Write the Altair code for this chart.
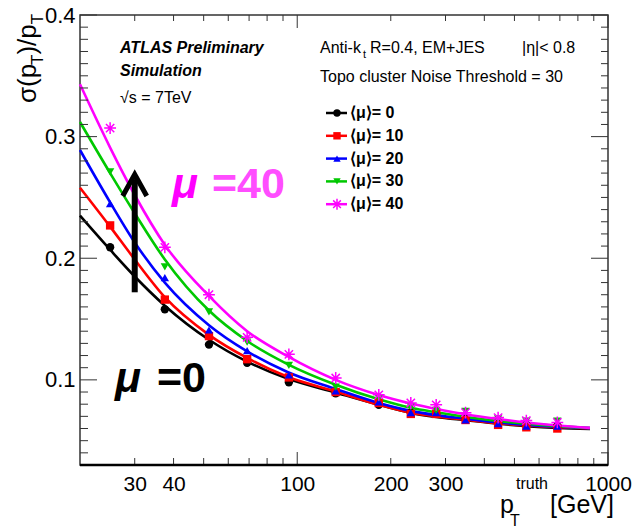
import altair as alt
import pandas as pd

FONT = "Liberation Sans"
W, H = 528, 450
TICK = "#333333"

# ---------------- data ----------------
mu_values = ["0", "10", "20", "30", "40"]
mu_colors = ["#000000", "#ff0000", "#0000ff", "#00c800", "#ff00ff"]
legend_labels = ["⟨μ⟩= 0", "⟨μ⟩= 10", "⟨μ⟩= 20", "⟨μ⟩= 30", "⟨μ⟩= 40"]

# fitted resolution curves
curve_pt = [20, 25, 30, 37.5, 52, 69, 93, 133, 183, 232, 280, 350, 443, 546, 690, 875]
curve_mu0 = [0.235, 0.207, 0.185, 0.161, 0.133, 0.115, 0.101, 0.0895, 0.0795, 0.0728, 0.0695, 0.0668, 0.0640, 0.0620, 0.0605, 0.0597]
curve_mu10 = [0.258, 0.226, 0.199, 0.168, 0.137, 0.118, 0.1025, 0.0905, 0.0795, 0.0730, 0.0700, 0.0672, 0.0643, 0.0625, 0.0610, 0.0600]
curve_mu20 = [0.289, 0.246, 0.213, 0.180, 0.145, 0.1235, 0.1065, 0.0925, 0.0810, 0.0745, 0.0710, 0.0680, 0.0650, 0.0630, 0.0615, 0.0603]
curve_mu30 = [0.312, 0.270, 0.237, 0.199, 0.157, 0.132, 0.113, 0.0960, 0.0840, 0.0770, 0.0733, 0.0695, 0.0663, 0.0640, 0.0620, 0.0604]
curve_mu40 = [0.343, 0.291, 0.252, 0.211, 0.169, 0.140, 0.1195, 0.1000, 0.0875, 0.0805, 0.0760, 0.0715, 0.0678, 0.0650, 0.0625, 0.0605]

# measured points
marker_pt = [25, 37.5, 52, 69, 94, 133, 183, 232, 280, 348, 443, 546, 687]
marker_mu0 = [0.209, 0.158, 0.129, 0.114, 0.098, 0.089, 0.0795, 0.073, 0.072, 0.068, 0.065, 0.063, 0.062]
marker_mu10 = [0.227, 0.166, 0.136, 0.117, 0.102, 0.090, 0.081, 0.072, 0.072, 0.067, 0.063, 0.061, 0.060]
marker_mu20 = [0.245, 0.184, 0.141, 0.124, 0.104, 0.091, 0.082, 0.073, 0.073, 0.067, 0.064, 0.062, 0.062]
marker_mu30 = [0.271, 0.193, 0.156, 0.131, 0.112, 0.094, 0.085, 0.078, 0.075, 0.074, 0.068, 0.066, 0.066]
marker_mu40 = [0.307, 0.209, 0.170, 0.135, 0.121, 0.1015, 0.0877, 0.081, 0.0795, 0.073, 0.069, 0.0665, 0.065]

x_label_values = [30, 40, 100, 200, 300, 1000]
y_label_values = [0.1, 0.2, 0.3, 0.4]
x_major_ticks = [100, 1000]
x_minor_ticks = [30, 40, 50, 60, 70, 80, 90, 200, 300, 400, 500, 600, 700, 800, 900]
y_major_ticks = [0.1, 0.2, 0.3, 0.4]
y_minor_ticks = [0.03, 0.04, 0.05, 0.06, 0.07, 0.08, 0.09,
                 0.11, 0.12, 0.13, 0.14, 0.15, 0.16, 0.17, 0.18, 0.19,
                 0.21, 0.22, 0.23, 0.24, 0.25, 0.26, 0.27, 0.28, 0.29,
                 0.31, 0.32, 0.33, 0.34, 0.35, 0.36, 0.37, 0.38, 0.39]

arrow_pt = [30]
arrow_start = [0.172]
arrow_end = [0.265]
arrow_tip = [0.269]

y_title_parts = ["σ(p", "T", ")/p", "T"]
x_title_parts = ["p", "T", "truth", "[GeV]"]
info_texts = ["ATLAS Preliminary", "Simulation", "√s = 7TeV",
              "Anti-k", "t", "R=0.4, EM+JES", "|η|< 0.8",
              "Topo cluster Noise Threshold = 30"]
big_labels = ["μ", "=40", "μ", "=0"]

# ---------------- tables ----------------
curve_sets = [curve_mu0, curve_mu10, curve_mu20, curve_mu30, curve_mu40]
marker_sets = [marker_mu0, marker_mu10, marker_mu20, marker_mu30, marker_mu40]
df_curves = pd.DataFrame([{"pt": p, "s": v, "mu": m}
                          for m, arr in zip(mu_values, curve_sets)
                          for p, v in zip(curve_pt, arr)])
df_markers = pd.DataFrame([{"pt": p, "s": v, "mu": m}
                           for m, arr in zip(mu_values, marker_sets)
                           for p, v in zip(marker_pt, arr)])

xs = alt.Scale(type="log", domain=[20, 1000], nice=False)
ys = alt.Scale(domain=[0.03, 0.4], nice=False, zero=False)
cs = alt.Scale(domain=mu_values, range=mu_colors)

STAR = "M-1,0L1,0M0,-1L0,1M-0.7,-0.7L0.7,0.7M-0.7,0.7L0.7,-0.7"
CHEVRON = "M-1,1.8L0,0L1,1.8"

x_axis = alt.Axis(values=x_label_values, format="d", labelFontSize=21, labelFont=FONT,
                  labelColor="black", ticks=False, domain=False, grid=False, labelPadding=8,
                  title=None, labelFlush=False, labelOverlap=False)
y_axis = alt.Axis(values=y_label_values, format=".1f", labelFontSize=22, labelFont=FONT,
                  labelColor="black", ticks=False, domain=False, grid=False, labelPadding=5,
                  title=None, labelFlush=False, labelOverlap=False)


def X(field):
    return alt.X(field, scale=xs, axis=x_axis)


def Y(field):
    return alt.Y(field, scale=ys, axis=y_axis)


layers = []

curves = alt.Chart(df_curves).mark_line(strokeWidth=2.6, interpolate="monotone").encode(
    x=X("pt:Q"), y=Y("s:Q"),
    color=alt.Color("mu:N", scale=cs, legend=None),
)
layers.append(curves)

filled = alt.Chart(df_markers).transform_filter(
    alt.FieldOneOfPredicate(field="mu", oneOf=mu_values[:4])
).mark_point(filled=True, size=70, opacity=1).encode(
    x=X("pt:Q"), y=Y("s:Q"),
    color=alt.Color("mu:N", scale=cs, legend=None),
    shape=alt.Shape("mu:N", scale=alt.Scale(domain=mu_values[:4],
                                            range=["circle", "square", "triangle-up", "triangle-down"]),
                    legend=None),
)
layers.append(filled)

stars = alt.Chart(df_markers).transform_filter(
    alt.datum.mu == mu_values[4]
).mark_point(shape=STAR, filled=False, size=140, strokeWidth=1.5, color=mu_colors[4], opacity=1).encode(
    x=X("pt:Q"), y=Y("s:Q"),
)
layers.append(stars)

# arrow
df_arrow = pd.DataFrame({"pt": arrow_pt, "s": arrow_start, "s2": arrow_end, "tip": arrow_tip})
layers.append(alt.Chart(df_arrow).mark_rule(strokeWidth=6, color="black").encode(
    x=X("pt:Q"), y=Y("s:Q"), y2="s2:Q"))
layers.append(alt.Chart(df_arrow).mark_point(shape=CHEVRON, filled=False, size=576, strokeWidth=5,
                                              color="black", opacity=1, strokeJoin="miter").encode(
    x=X("pt:Q"), y=Y("tip:Q")))


# frame ticks (inside, ROOT style)
def yticks(vals, x0, x1):
    return alt.Chart(pd.DataFrame({"s": vals})).mark_rule(color=TICK, strokeWidth=1).encode(
        y=Y("s:Q"), x=alt.value(x0), x2=alt.value(x1))


def xticks(vals, y0, y1):
    return alt.Chart(pd.DataFrame({"pt": vals})).mark_rule(color=TICK, strokeWidth=1).encode(
        x=X("pt:Q"), y=alt.value(y0), y2=alt.value(y1))


layers += [
    yticks(y_major_ticks, 0, 17), yticks(y_minor_ticks, 0, 8),
    yticks(y_major_ticks, W - 17, W), yticks(y_minor_ticks, W - 7, W),
    xticks(x_major_ticks, H - 13, H), xticks(x_minor_ticks, H - 7, H),
    xticks(x_major_ticks, 0, 13), xticks(x_minor_ticks, 0, 6),
]

# thicker bottom frame line
layers.append(alt.Chart(pd.DataFrame({"k": [0]})).mark_rule(color="black", strokeWidth=2.5).encode(
    x=alt.value(0), x2=alt.value(W), y=alt.value(H)))


def txt(s, x, y, size, weight="normal", style="normal", color="black", angle=0,
        align="left", baseline="alphabetic"):
    return alt.Chart(pd.DataFrame({"t": [s]})).mark_text(
        align=align, baseline=baseline, font=FONT, fontSize=size, fontWeight=weight,
        fontStyle=style, color=color, angle=angle).encode(
        x=alt.value(x), y=alt.value(y), text="t:N")


# y-axis title (rotated, reads bottom to top)
layers += [
    txt(y_title_parts[0], -44, 88, 26, angle=270),
    txt(y_title_parts[1], -37, 50, 17, angle=270),
    txt(y_title_parts[2], -44, 39.6, 26, angle=270),
    txt(y_title_parts[3], -37, 9.3, 17, angle=270),
]

# x-axis title
layers += [
    txt(x_title_parts[0], 420, 498, 25),
    txt(x_title_parts[1], 430, 511, 16),
    txt(x_title_parts[2], 436, 474, 16),
    txt(x_title_parts[3], 470, 498, 25),
]

# info texts
layers += [
    txt(info_texts[0], 40, 38, 16, weight="bold", style="italic"),
    txt(info_texts[1], 40, 61, 16, weight="bold", style="italic"),
    txt(info_texts[2], 40, 88, 16),
    txt(info_texts[3], 240, 38, 16),
    txt(info_texts[4], 283, 43, 11),
    txt(info_texts[5], 290, 38, 16),
    txt(info_texts[6], 442, 38, 16),
    txt(info_texts[7], 240, 67, 16),
]

# big mu labels
layers += [
    txt(big_labels[0], 92, 183, 43, weight="bold", style="italic", color="#ff00ff"),
    txt(big_labels[1], 132, 183, 43, weight="bold", color="#ff4dff"),
    txt(big_labels[2], 35, 377, 43, weight="bold", style="italic", color="black"),
    txt(big_labels[3], 77, 377, 43, weight="bold", color="black"),
]

# legend
shapes = ["circle", "square", "triangle-up", "triangle-down", STAR]
for i, (lab, col, shp) in enumerate(zip(legend_labels, mu_colors, shapes)):
    yy = 98 + i * 22.8
    one = pd.DataFrame({"k": [0]})
    layers.append(alt.Chart(one).mark_rule(color=col, strokeWidth=2.5).encode(
        x=alt.value(246), x2=alt.value(267), y=alt.value(yy)))
    if i < 4:
        layers.append(alt.Chart(one).mark_point(shape=shp, filled=True, size=55, color=col, opacity=1).encode(
            x=alt.value(257), y=alt.value(yy)))
    else:
        layers.append(alt.Chart(one).mark_point(shape=shp, filled=False, size=120, strokeWidth=1.5,
                                                color=col, opacity=1).encode(
            x=alt.value(257), y=alt.value(yy)))
    layers.append(txt(lab, 270, yy, 16, weight="bold", baseline="middle"))

chart = alt.layer(*layers).properties(
    width=W, height=H,
    autosize=alt.AutoSizeParams(type="none"),
    padding={"left": 80, "top": 15, "right": 24, "bottom": 63},
    background="white",
).configure_view(stroke="#333333", strokeWidth=1.5)

chart.save("out.html", embed_options={"renderer": "svg", "actions": False})
